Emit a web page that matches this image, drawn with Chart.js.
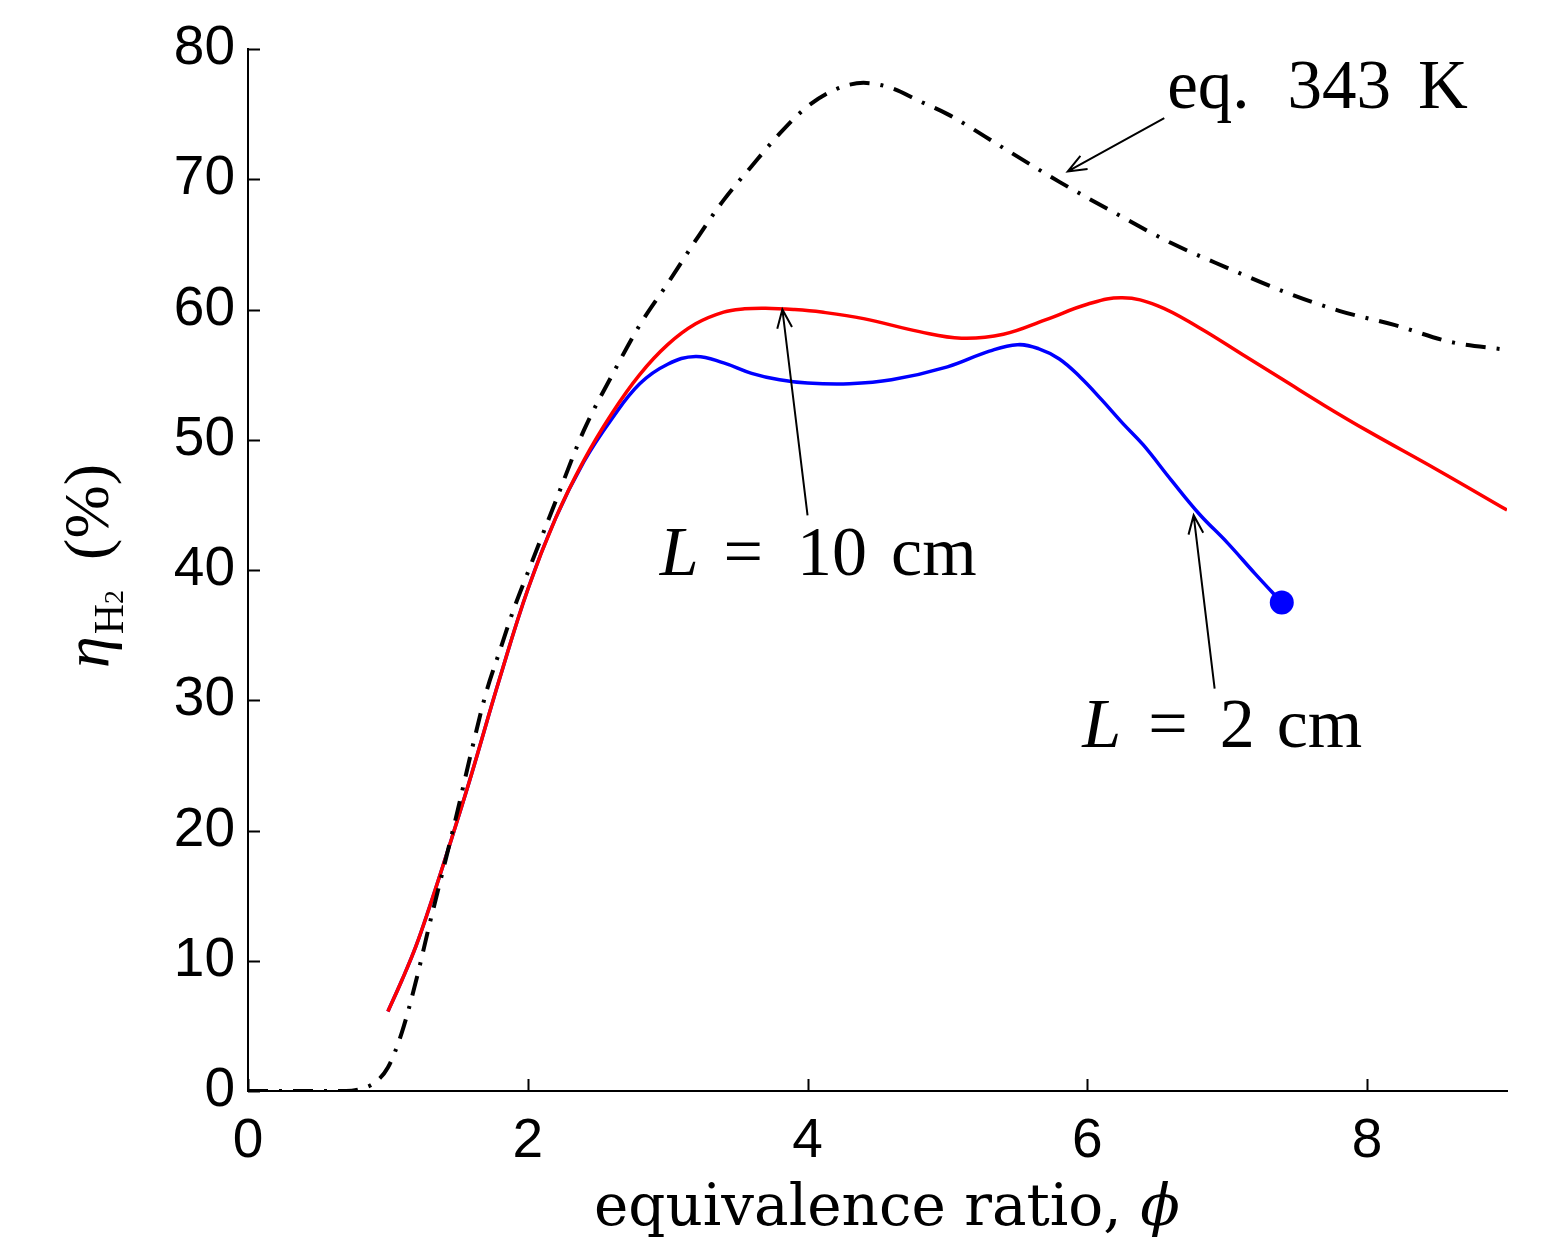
<!DOCTYPE html>
<html>
<head>
<meta charset="utf-8">
<script src="https://cdn.jsdelivr.net/npm/chart.js@4.4.0/dist/chart.umd.min.js"></script>
<style>
    body { margin: 0; background: #fff; }
</style>
</head>
<body>
<canvas id="grafico" width="1557" height="1240"></canvas>
<script>
// curva de equilibrio (eq. 343 K)
var phiEq = [0, 0.3, 0.55, 0.7, 0.8, 0.9, 1.0, 1.1, 1.2, 1.3, 1.4, 1.5, 1.6, 1.7, 1.8, 1.9, 2.0, 2.2, 2.4, 2.6, 2.8, 3.0, 3.2, 3.4, 3.6, 3.8, 4.0, 4.2, 4.4, 4.6, 4.8, 5.0, 5.4, 5.8, 6.2, 6.6, 7.0, 7.4, 7.8, 8.2, 8.6, 9.0];
var etaEq = [0, 0, 0, 0, 0.15, 0.6, 1.8, 4.5, 8.4, 12.9, 17.2, 21.6, 26.2, 30.5, 33.8, 37.0, 39.8, 45.3, 50.7, 54.9, 58.8, 62.0, 65.3, 68.4, 71.0, 73.5, 75.6, 76.9, 77.4, 77.0, 76.0, 75.0, 72.4, 69.8, 67.4, 65.1, 63.2, 61.4, 59.9, 58.8, 57.5, 56.9];

// L = 10 cm
var phi10 = [1.0, 1.1, 1.2, 1.3, 1.4, 1.5, 1.6, 1.8, 2.0, 2.2, 2.4, 2.6, 2.8, 3.0, 3.2, 3.4, 3.55, 3.7, 3.9, 4.1, 4.4, 4.8, 5.1, 5.4, 5.7, 6.0, 6.25, 6.5, 6.8, 7.1, 7.4, 7.7, 8.0, 8.5, 9.0];
var eta10 = [6.1, 8.5, 11.1, 14.2, 17.5, 20.9, 24.4, 31.7, 38.5, 44.0, 48.4, 52.0, 55.0, 57.3, 58.9, 59.8, 60.05, 60.1, 60.0, 59.8, 59.3, 58.3, 57.8, 58.1, 59.2, 60.4, 60.9, 60.3, 58.6, 56.6, 54.6, 52.6, 50.7, 47.7, 44.6];

// L = 2 cm
var phi2 = [1.0, 1.1, 1.2, 1.3, 1.4, 1.5, 1.6, 1.8, 2.0, 2.2, 2.4, 2.6, 2.8, 3.0, 3.2, 3.4, 3.6, 3.8, 4.0, 4.3, 4.6, 5.0, 5.3, 5.5, 5.65, 5.8, 5.95, 6.1, 6.25, 6.4, 6.6, 6.8, 7.0, 7.2, 7.39];
var eta2 = [6.1, 8.5, 11.1, 14.2, 17.5, 20.9, 24.4, 31.7, 38.5, 44.0, 48.3, 51.6, 54.3, 55.8, 56.4, 55.9, 55.1, 54.6, 54.35, 54.3, 54.6, 55.6, 56.8, 57.3, 57.0, 56.2, 54.8, 53.1, 51.3, 49.6, 46.9, 44.3, 42.1, 39.7, 37.5];

var xTicks = [0, 2, 4, 6, 8];
var yTicks = [0, 10, 20, 30, 40, 50, 60, 70, 80];

function pontos(xs, ys) {
    var p = [];
    for (var i = 0; i < xs.length; i++) {
        p[i] = { x: xs[i], y: ys[i] };
    }
    return p;
}

function seta(ctx, x1, y1, x2, y2) {
    var ang = Math.atan2(y2 - y1, x2 - x1);
    var t = 20, a = 0.38;
    ctx.beginPath();
    ctx.moveTo(x1, y1);
    ctx.lineTo(x2, y2);
    ctx.moveTo(x2 - t * Math.cos(ang - a), y2 - t * Math.sin(ang - a));
    ctx.lineTo(x2, y2);
    ctx.lineTo(x2 - t * Math.cos(ang + a), y2 - t * Math.sin(ang + a));
    ctx.stroke();
}

// desenha pedacos de texto em sequencia
function textoPartes(ctx, x, y, partes) {
    var cx = x;
    for (var i = 0; i < partes.length; i++) {
        var p = partes[i];
        cx += p.gap || 0;
        ctx.font = p.font;
        ctx.fillText(p.t, cx, y + (p.dy || 0));
        cx += ctx.measureText(p.t).width;
    }
}

var anotacoes = {
    id: 'anotacoes',
    afterDraw: function (chart) {
        var ctx = chart.ctx;
        var sx = chart.scales.x, sy = chart.scales.y;
        var a = chart.chartArea;
        ctx.save();
        ctx.strokeStyle = '#000';
        ctx.fillStyle = '#000';

        // ticks para dentro
        ctx.lineWidth = 2;
        ctx.beginPath();
        xTicks.forEach(function (v) {
            var px = Math.round(sx.getPixelForValue(v)) + 0.5;
            ctx.moveTo(px, a.bottom);
            ctx.lineTo(px, a.bottom - 12);
        });
        yTicks.forEach(function (v) {
            var py = Math.round(sy.getPixelForValue(v)) + 0.5;
            ctx.moveTo(a.left, py);
            ctx.lineTo(a.left + 12, py);
        });
        ctx.stroke();

        // setas
        ctx.lineWidth = 2;
        seta(ctx, sx.getPixelForValue(6.55), sy.getPixelForValue(74.7), sx.getPixelForValue(5.86), sy.getPixelForValue(70.6));
        seta(ctx, sx.getPixelForValue(4.0), sy.getPixelForValue(44.2), sx.getPixelForValue(3.82), sy.getPixelForValue(60.0));
        seta(ctx, sx.getPixelForValue(6.91), sy.getPixelForValue(30.9), sx.getPixelForValue(6.76), sy.getPixelForValue(44.2));

        ctx.textBaseline = 'alphabetic';
        ctx.textAlign = 'left';
        var serif = '"Liberation Serif", serif';
        textoPartes(ctx, sx.getPixelForValue(6.571), sy.getPixelForValue(75.5), [
            { t: 'eq.', font: '69px ' + serif },
            { t: '343', font: '69px ' + serif, gap: 38 },
            { t: 'K', font: '69px ' + serif, gap: 27 }
        ]);
        textoPartes(ctx, sx.getPixelForValue(2.943), sy.getPixelForValue(39.6), [
            { t: 'L', font: 'italic 70px ' + serif },
            { t: '=', font: '70px ' + serif, gap: 25 },
            { t: '10', font: '70px ' + serif, gap: 34 },
            { t: 'cm', font: '70px ' + serif, gap: 24 }
        ]);
        textoPartes(ctx, sx.getPixelForValue(5.964), sy.getPixelForValue(26.4), [
            { t: 'L', font: 'italic 70px ' + serif },
            { t: '=', font: '70px ' + serif, gap: 27 },
            { t: '2', font: '70px ' + serif, gap: 32 },
            { t: 'cm', font: '70px ' + serif, gap: 22 }
        ]);

        // titulo eixo x
        var partesX = [
            { t: 'equivalence ratio, ', font: '58px "DejaVu Serif", serif' },
            { t: '\u03D5', font: 'italic 58px "DejaVu Serif", serif' }
        ];
        textoPartes(ctx, 594, 1225, partesX);

        // titulo eixo y
        ctx.save();
        ctx.translate(108, 566);
        ctx.rotate(-Math.PI / 2);
        var partesY = [
            { t: '\u03B7', font: 'italic 64px ' + serif },
            { t: 'H', font: '42px ' + serif, dy: 15, gap: 2 },
            { t: '2', font: '28px ' + serif, dy: 15 },
            { t: '(%)', font: '64px ' + serif, gap: 30 }
        ];
        var larg = 0;
        partesY.forEach(function (p) { ctx.font = p.font; larg += (p.gap || 0) + ctx.measureText(p.t).width; });
        textoPartes(ctx, -larg / 2, 0, partesY);
        ctx.restore();

        ctx.restore();
    }
};

var dados = {
    datasets: [
        {
            label: 'L = 10 cm',
            data: pontos(phi10, eta10),
            borderColor: '#ff0000',
            borderWidth: 3.5,
            pointRadius: 0,
            tension: 0.4,
            order: 1
        },
        {
            label: 'L = 2 cm',
            data: pontos(phi2, eta2),
            borderColor: '#0000ff',
            backgroundColor: '#0000ff',
            borderWidth: 3.5,
            pointRadius: function (c) { return c.dataIndex === phi2.length - 1 ? 12 : 0; },
            pointBorderWidth: 0,
            tension: 0.4,
            order: 2
        },
        {
            label: 'eq. 343 K',
            data: pontos(phiEq, etaEq),
            borderColor: '#000000',
            borderWidth: 4,
            borderDash: [20, 11, 3, 11],
            pointRadius: 0,
            cubicInterpolationMode: 'monotone',
            order: 0
        }
    ]
};

var config = {
    type: 'line',
    data: dados,
    options: {
        responsive: false,
        animation: false,
        devicePixelRatio: 1,
        layout: { padding: { top: 49, right: 50, left: 0, bottom: 0 } },
        plugins: {
            legend: { display: false },
            tooltip: { enabled: false }
        },
        scales: {
            x: {
                type: 'linear',
                min: 0,
                max: 9,
                grid: { display: false, drawTicks: false },
                border: { display: true, color: '#000', width: 2 },
                ticks: {
                    stepSize: 2,
                    includeBounds: false,
                    padding: 18,
                    color: '#000',
                    font: { family: '"Liberation Sans", Arial, sans-serif', size: 55 }
                },
                afterFit: function (s) { s.height = 149; }
            },
            y: {
                type: 'linear',
                min: 0,
                max: 80,
                grid: { display: false, drawTicks: false },
                border: { display: true, color: '#000', width: 2 },
                ticks: {
                    stepSize: 10,
                    padding: 13,
                    color: '#000',
                    font: { family: '"Liberation Sans", Arial, sans-serif', size: 55 }
                },
                afterFit: function (s) { s.width = 248; }
            }
        }
    },
    plugins: [anotacoes]
};

new Chart(document.getElementById('grafico'), config);
</script>
</body>
</html>
